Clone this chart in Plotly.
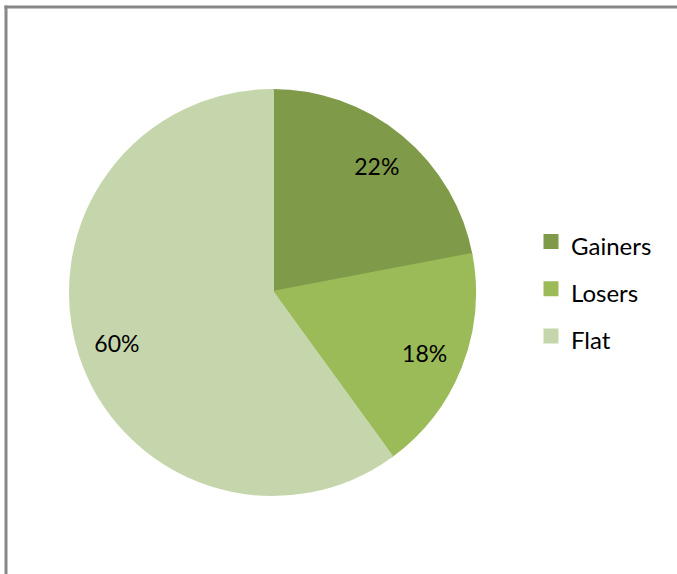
import plotly.graph_objects as go

categories = ["Gainers", "Losers", "Flat"]
values = [22, 18, 60]
colors = ["#7F9A48", "#9BBB59", "#C6D6AC"]

FONT = "Lato, Open Sans, sans-serif"
W, H = 677, 574
dom = dict(x=[70.5/W, 474.5/W], y=[1-494.5/H, 1-90.5/H])

legend_labels = ["<span style='font-size:24px'>%s</span>" % c for c in categories]

fig = go.Figure()
# filled pie (slices + legend)
fig.add_trace(go.Pie(
    labels=legend_labels,
    values=values,
    marker=dict(colors=colors, line=dict(width=3, color=colors)),
    sort=False,
    direction="clockwise",
    rotation=0,
    textinfo="none",
    domain=dom,
    hoverinfo="none",
))
# transparent ring carrying the percentage labels
fig.add_trace(go.Pie(
    labels=legend_labels,
    values=values,
    marker=dict(colors=["rgba(0,0,0,0)"] * 3, line=dict(width=0)),
    sort=False,
    direction="clockwise",
    rotation=0,
    hole=0.62,
    texttemplate="%{percent:.0%}",
    textposition="inside",
    insidetextorientation="horizontal",
    textfont=dict(family=FONT, size=23, color="#000000"),
    domain=dom,
    hoverinfo="none",
    showlegend=False,
))

fig.update_layout(
    width=W, height=H,
    margin=dict(l=0, r=0, t=0, b=0),
    paper_bgcolor="white",
    showlegend=True,
    legend=dict(
        x=531/W, y=1-289/H, xanchor="left", yanchor="middle",
        font=dict(family=FONT, size=34, color="#000000"),
        itemwidth=30,
        tracegroupgap=0,
    ),
    shapes=[
        dict(type="line", xref="paper", yref="paper", x0=6/W, x1=6/W, y0=0, y1=1-5.5/H,
             line=dict(color="#888888", width=3)),
        dict(type="line", xref="paper", yref="paper", x0=4.5/W, x1=1, y0=1-7/H, y1=1-7/H,
             line=dict(color="#888888", width=3)),
    ],
)

fig.write_html("out.html", config={"displayModeBar": False},
               post_script="document.body.style.margin='0';")
